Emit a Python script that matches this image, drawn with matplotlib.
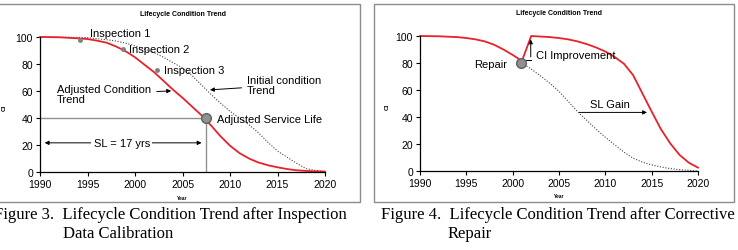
import matplotlib
matplotlib.use("Agg")
import matplotlib.pyplot as plt
from matplotlib.patches import Rectangle

plt.rcParams['font.family'] = ['Liberation Sans', 'DejaVu Sans']

# Figure 3 - inspection data calibration
init_years = [1990, 1993, 1995, 1997, 1998, 1999, 2000, 2001, 2002, 2003, 2004, 2005, 2006,
              2007, 2008, 2009, 2010, 2011, 2012, 2013, 2014, 2015, 2016, 2017, 2018, 2019, 2020]
init_ci = [100, 99.8, 99.5, 98, 97, 95.5, 93.5, 91, 88.5, 85, 81, 77, 71.5,
           64.5, 57.5, 51, 45, 40, 35, 29, 22, 15.5, 11, 6.5, 2.5, 1.2, 0.5]
adj_years = [1990, 1992, 1994, 1995, 1996, 1997, 1998, 1999, 2000, 2001, 2002, 2003, 2004, 2005,
             2006, 2007, 2008, 2009, 2010, 2011, 2012, 2013, 2014, 2015, 2016, 2017, 2018, 2019, 2020]
adj_ci = [100, 99.8, 99, 98.5, 97.3, 95.8, 93, 89.5, 85, 79.5, 74, 67.5, 61, 55,
          48.5, 42, 34.5, 26.5, 19.5, 14, 10, 7, 5, 3.5, 2.2, 1.3, 0.8, 0.5, 0.3]
insp_years = [1994.2, 1998.7, 2002.35]
insp_ci = [97.8, 91, 75.2]
insp_labels = ["Inspection 1", "Inspection 2", "Inspection 3"]
service_life = (2007.5, 40)

# Figure 4 - corrective repair
rep_years = [1990, 1992, 1994, 1995, 1996, 1997, 1998, 1999, 2000, 2001, 2002, 2003, 2004, 2005,
             2006, 2007, 2008, 2009, 2010, 2011, 2012, 2013, 2014, 2015, 2016, 2017, 2018, 2019, 2020]
rep_ci = [100, 99.8, 99.2, 98.5, 97.5, 96, 93.5, 90, 86, 81.5, 100, 99.6, 99.2, 98.5,
          97.5, 96, 94, 91.5, 88.5, 84.5, 79.5, 71, 57.5, 44, 31, 20.5, 12, 6.2, 2.5]
norep_years = [2001, 2002, 2003, 2004, 2005, 2006, 2007, 2008, 2009, 2010, 2011, 2012, 2013,
               2014, 2015, 2016, 2017, 2018, 2019, 2020]
norep_ci = [80, 75.5, 70.5, 65, 59, 51.5, 44, 37.5, 31, 25, 19.5, 14, 9.5,
            6.5, 4.5, 3, 1.8, 1, 0.5, 0]
repair_pt = (2000.85, 80)

fig = plt.figure(figsize=(7.38, 2.51), dpi=100)
W, H = 738, 251

# panel frames
fig.patches.append(Rectangle((-10 / W, 1 - 203 / H), 370 / W, 198 / H, transform=fig.transFigure,
                             fill=False, edgecolor='#8c8c8c', lw=1))
fig.patches.append(Rectangle((374 / W, 1 - 203 / H), 360 / W, 198 / H, transform=fig.transFigure,
                             fill=False, edgecolor='#8c8c8c', lw=1))

ax1 = fig.add_axes([40 / W, 1 - 173 / H, 285 / W, 135 / H])
ax2 = fig.add_axes([420 / W, 1 - 172 / H, 278 / W, 135 / H])

for ax in (ax1, ax2):
    ax.set_xlim(1990, 2020)
    ax.set_ylim(0, 100)
    ax.set_xticks(range(1990, 2021, 5))
    ax.set_yticks(range(0, 101, 20))
    ax.spines[['top', 'right']].set_visible(False)
    ax.spines[['left', 'bottom']].set_linewidth(0.9)
    ax.tick_params(direction='out', length=3, width=0.8, labelsize=7.5, pad=2)
    ax.set_title("Lifecycle Condition Trend", fontsize=5, fontweight='bold', pad=16)
    ax.set_xlabel("Year", fontsize=3.5, fontweight='bold', labelpad=4)
    ax.set_ylabel("CI", fontsize=4.5, fontweight='bold')
ax1.yaxis.set_label_coords(-0.115, 0.48)
ax2.yaxis.set_label_coords(-0.11, 0.48)

arrow = dict(arrowstyle='-|>', color='black', lw=0.7, mutation_scale=6)
fs = 8

# ---- left chart
ax1.plot(init_years, init_ci, color='#444444', ls=(0, (1, 1.5)), lw=0.8, clip_on=False)
ax1.plot(adj_years, adj_ci, color='#e8222a', lw=1.3, clip_on=False)
ax1.plot([1990, service_life[0]], [service_life[1]] * 2, color='#909090', lw=1)
ax1.plot([service_life[0]] * 2, [0, service_life[1]], color='#909090', lw=1)
ax1.plot(insp_years, insp_ci, 'o', color='#808080', ms=2.5, zorder=5)
ax1.plot(*service_life, 'o', color='#909090', mec='#606060', ms=7, zorder=5)
label_pos = [(1995.3, 103), (1999.4, 91), (2003.0, 75.3)]
for lab, (x, y) in zip(insp_labels, label_pos):
    ax1.text(x, y, lab, fontsize=fs, va='center', ha='left', clip_on=False)
ax1.annotate("Initial condition\nTrend", xy=(2007.6, 60.7), xytext=(2011.8, 64.4),
             fontsize=fs, va='center', ha='left', linespacing=0.95, arrowprops=arrow)
ax1.annotate("Adjusted Condition\nTrend", xy=(2004.1, 60.2), xytext=(1991.8, 57.8),
             fontsize=fs, va='center', ha='left', linespacing=0.95, arrowprops=arrow)
ax1.text(2008.6, 39.3, "Adjusted Service Life", fontsize=fs, va='center', ha='left')
ax1.annotate("", xy=(1990.2, 21.6), xytext=(2007.3, 21.6),
             arrowprops=dict(arrowstyle='<|-|>', color='black', lw=0.7, mutation_scale=6))
ax1.text(1998.6, 21.6, "SL = 17 yrs", fontsize=fs, va='center', ha='center',
         bbox=dict(facecolor='white', edgecolor='none', pad=1.5))

# ---- right chart
ax2.plot(norep_years, norep_ci, color='#444444', ls=(0, (1, 1.5)), lw=0.8, clip_on=False)
ax2.plot(rep_years, rep_ci, color='#e8222a', lw=1.3, clip_on=False)
ax2.plot(*repair_pt, 'o', color='#909090', mec='#606060', ms=7, zorder=5)
ax2.plot([2001.3, 2001.95], [82.5, 82.5], color='black', lw=0.7)
ax2.annotate("", xy=(2001.95, 99.5), xytext=(2001.95, 82.5), arrowprops=arrow)
ax2.text(1999.35, 79.3, "Repair", fontsize=fs, va='center', ha='right')
ax2.text(2002.5, 86.2, "CI Improvement", fontsize=fs, va='center', ha='left')
ax2.annotate("", xy=(2014.8, 43.4), xytext=(2006.9, 43.4), arrowprops=arrow)
ax2.text(2008.3, 49.6, "SL Gain", fontsize=fs, va='center', ha='left')

# captions
serif = ['Liberation Serif', 'DejaVu Serif']
cap = 12
fig.text(-6 / W, 1 - 215 / H, "Figure 3.  Lifecycle Condition Trend after Inspection",
         fontsize=cap, family=serif, va='center', ha='left')
fig.text(63 / W, 1 - 234 / H, "Data Calibration", fontsize=cap, family=serif, va='center', ha='left')
fig.text(381 / W, 1 - 215 / H, "Figure 4.  Lifecycle Condition Trend after Corrective",
         fontsize=cap, family=serif, va='center', ha='left')
fig.text(448 / W, 1 - 234 / H, "Repair", fontsize=cap, family=serif, va='center', ha='left')

fig.savefig("out.png", dpi=100)
